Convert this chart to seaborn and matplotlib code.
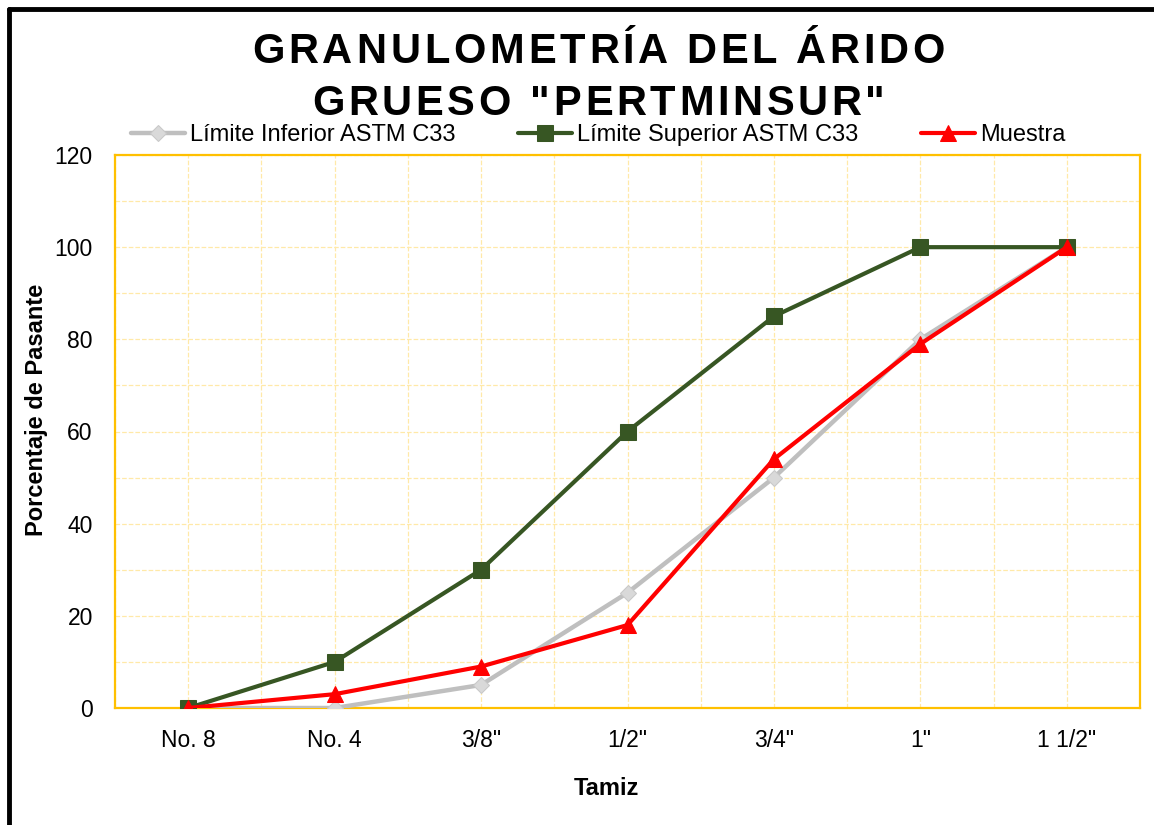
import matplotlib
matplotlib.use("Agg")
import matplotlib.pyplot as plt
import seaborn as sns
from matplotlib.lines import Line2D
from matplotlib.ticker import MultipleLocator
from matplotlib.font_manager import FontProperties

# datos de la granulometria
tamices = ['No. 8', 'No. 4', '3/8"', '1/2"', '3/4"', '1"', '1 1/2"']
limite_inferior = [0, 0, 5, 25, 50, 80, 100]
limite_superior = [0, 10, 30, 60, 85, 100, 100]
muestra = [0, 3, 9, 18, 54, 79, 100]

titulo = ['GRANULOMETRÍA DEL ÁRIDO', 'GRUESO "PERTMINSUR"']

sns.set_style("white")
plt.rcParams['font.family'] = ['Liberation Sans', 'DejaVu Sans']
plt.rcParams['text.color'] = 'black'
plt.rcParams['axes.labelcolor'] = 'black'
plt.rcParams['xtick.color'] = 'black'
plt.rcParams['ytick.color'] = 'black'

W, H = 1154, 825
fig = plt.figure(figsize=(W / 100, H / 100), dpi=100)
ax = fig.add_axes([115 / W, 1 - 708 / H, 1025 / W, 553 / H])

gold = '#FFC000'
grid_c = '#FFE9A8'

sns.lineplot(x=tamices, y=limite_inferior, ax=ax, sort=False, color='#BFBFBF', lw=3.2,
             marker='D', markersize=8, markerfacecolor='#D9D9D9', markeredgecolor='#C8C8C8',
             label='Límite Inferior ASTM C33', zorder=3)
sns.lineplot(x=tamices, y=limite_superior, ax=ax, sort=False, color='#375623', lw=3,
             marker='s', markersize=11, markerfacecolor='#375623', markeredgecolor='#375623',
             label='Límite Superior ASTM C33', zorder=4)
sns.lineplot(x=tamices, y=muestra, ax=ax, sort=False, color='#FF0000', lw=3,
             marker='^', markersize=12, markerfacecolor='#FF0000', markeredgecolor='#FF0000',
             label='Muestra', zorder=5)

ax.set_xlim(-0.5, 6.5)
ax.set_ylim(0, 120)
ax.yaxis.set_major_locator(MultipleLocator(20))
ax.yaxis.set_minor_locator(MultipleLocator(10))
ax.set_xticks(range(len(tamices)))
ax.set_xticks([i + 0.5 for i in range(-1, len(tamices))], minor=True)

ax.grid(True, which='both', axis='both', color=grid_c, linestyle='--', linewidth=0.9)
ax.set_axisbelow(True)

for s in ax.spines.values():
    s.set_color(gold)
    s.set_linewidth(1.6)
    s.set_visible(True)

ax.tick_params(axis='x', which='major', direction='inout', length=10, width=1.4, color=gold,
               labelsize=16.5, pad=10)
ax.tick_params(axis='x', which='minor', length=0)
ax.tick_params(axis='y', which='both', length=0, labelsize=16.5, pad=16)

ax.set_xlabel('Tamiz', fontsize=17, fontweight='bold')
ax.set_ylabel('Porcentaje de Pasante', fontsize=17, fontweight='bold')
ax.xaxis.set_label_coords((606 - 115) / 1025, (708 - 777) / 553)
ax.yaxis.set_label_coords((48 - 115) / 1025, (708 - 410) / 553)

ax.legend(loc='center', bbox_to_anchor=((598 - 115) / 1025, (708 - 135) / 553), ncol=3,
          frameon=False, fontsize=17, handlelength=2.3, handletextpad=0.2,
          columnspacing=2.65, borderaxespad=0)

# titulo con espaciado entre letras
fp = FontProperties(family=['Liberation Sans', 'DejaVu Sans'], weight='bold', size=30)
renderer = fig.canvas.get_renderer()


def ancho(s):
    if not s:
        return 0.0
    w1 = renderer.get_text_width_height_descent(s + 'H', fp, ismath=False)[0]
    w2 = renderer.get_text_width_height_descent('H', fp, ismath=False)[0]
    return w1 - w2


for linea, base, objetivo in zip(titulo, [63, 115], [693, 573]):
    total = renderer.get_text_width_height_descent(linea, fp, ismath=False)[0]
    sp = (objetivo - total) / (len(linea) - 1)
    x0 = 598.5 - objetivo / 2
    for i, ch in enumerate(linea):
        x = x0 + ancho(linea[:i]) + i * sp
        fig.text(x / W, 1 - base / H, ch, ha='left', va='baseline', fontproperties=fp)

# marco negro del grafico
fig.add_artist(Line2D([9 / W, 9 / W], [0, 1 - 9 / H], color='black', lw=3.5,
                      transform=fig.transFigure))
fig.add_artist(Line2D([9 / W, 1], [1 - 9 / H, 1 - 9 / H], color='black', lw=3.5,
                      transform=fig.transFigure))

fig.savefig('out.png', dpi=100)
